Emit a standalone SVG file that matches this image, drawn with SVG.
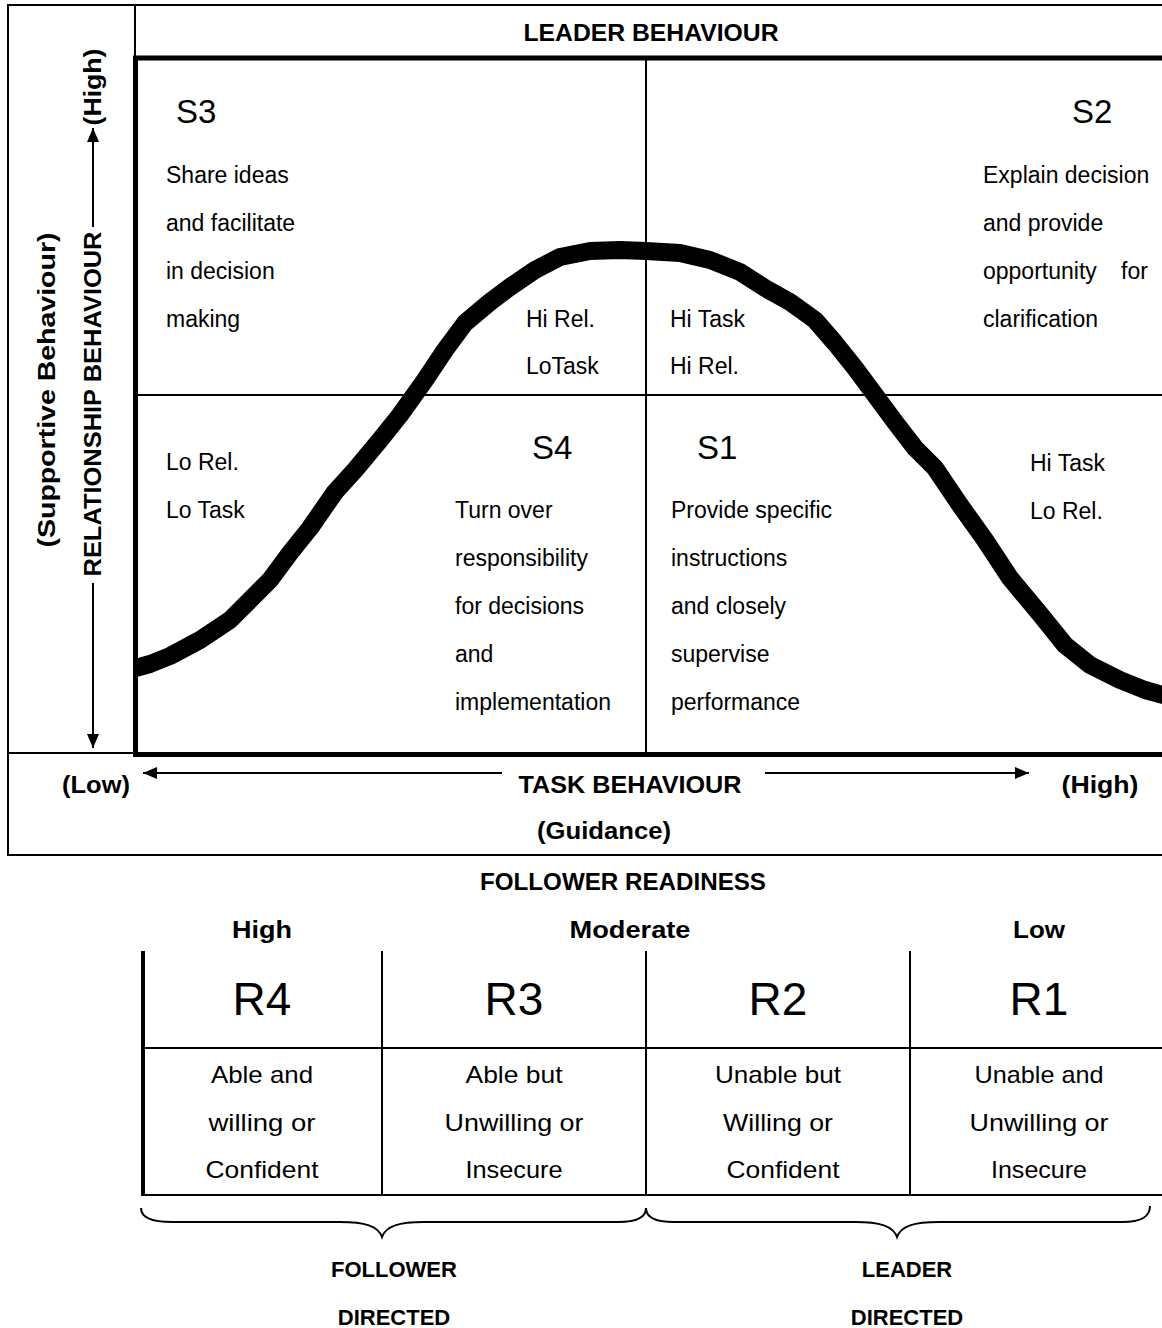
<svg xmlns="http://www.w3.org/2000/svg" width="1162" height="1328" viewBox="0 0 1162 1328">
<style>
text{font-family:"Liberation Sans",Arial,sans-serif;fill:#000}
.b{font-weight:bold;font-size:24px}
.t{font-size:23px}
.s{font-size:33px}
.r{font-size:46px;text-anchor:middle}
.c{font-size:24px;text-anchor:middle}
.m{text-anchor:middle}
.thin{stroke:#000;stroke-width:2;fill:none}
.thick{stroke:#000;stroke-width:5;fill:none}
.ax{stroke:#000;stroke-width:2;fill:none;marker-end:url(#ah)}
.br{stroke:#000;stroke-width:2;fill:none}
</style>
<defs>
<marker id="ah" viewBox="0 0 14 12" refX="14" refY="6" markerWidth="14" markerHeight="12" markerUnits="userSpaceOnUse" orient="auto"><path d="M0,0 L14,6 L0,12 z" fill="#000"/></marker>
<clipPath id="inner"><rect x="137" y="60" width="1030" height="692"/></clipPath>
</defs>
<rect width="1162" height="1328" fill="#fff"/>

<g id="frame">
<path class="thin" d="M1162,5 H8 V855 H1162"/>
<line class="thin" x1="135" y1="5" x2="135" y2="58"/>
<line class="thin" x1="8" y1="753" x2="135" y2="753"/>
<path class="thick" d="M1164,58 H135.5 V754.5 H1164"/>
<line class="thin" x1="646" y1="58" x2="646" y2="753"/>
<line class="thin" x1="135" y1="395" x2="1162" y2="395"/>
</g>

<g id="header">
<text class="b m" x="651" y="41" textLength="255" lengthAdjust="spacingAndGlyphs">LEADER BEHAVIOUR</text>
</g>

<g id="curve" clip-path="url(#inner)">
<path d="M125,671 L150,664 L170,656 L200,640 L230,620 L250,600 L270,580 L290,553 L310,528 L335,492 L355,470 L380,440 L400,415 L425,380 L445,350 L465,323 L490,302 L510,287 L535,270 L560,257 L590,251 L620,250 L646,251 L680,253 L710,260 L740,272 L765,288 L790,302 L815,320 L835,343 L855,368 L875,395 L895,422 L915,448 L935,468 L960,505 L985,540 L1010,578 L1040,614 L1065,645 L1090,665 L1120,680 L1145,690 L1170,697" fill="none" stroke="#000" stroke-width="18" stroke-linejoin="round" stroke-linecap="round"/>
</g>

<g id="s3">
<text class="s" x="176" y="123">S3</text>
<text class="t" x="166" y="183">Share ideas</text>
<text class="t" x="166" y="231">and facilitate</text>
<text class="t" x="166" y="279">in decision</text>
<text class="t" x="166" y="327">making</text>
<text class="t" x="526" y="327">Hi Rel.</text>
<text class="t" x="526" y="374">LoTask</text>
</g>

<g id="s2">
<text class="s" x="1072" y="123">S2</text>
<text class="t" x="983" y="183">Explain decision</text>
<text class="t" x="983" y="231">and provide</text>
<text class="t" x="983" y="279">opportunity</text>
<text class="t" x="1121" y="279">for</text>
<text class="t" x="983" y="327">clarification</text>
<text class="t" x="670" y="327">Hi Task</text>
<text class="t" x="670" y="374">Hi Rel.</text>
</g>

<g id="s4">
<text class="t" x="166" y="470">Lo Rel.</text>
<text class="t" x="166" y="518">Lo Task</text>
<text class="s" x="532" y="459">S4</text>
<text class="t" x="455" y="518">Turn over</text>
<text class="t" x="455" y="566">responsibility</text>
<text class="t" x="455" y="614">for decisions</text>
<text class="t" x="455" y="662">and</text>
<text class="t" x="455" y="710">implementation</text>
</g>

<g id="s1">
<text class="s" x="697" y="459">S1</text>
<text class="t" x="671" y="518">Provide specific</text>
<text class="t" x="671" y="566">instructions</text>
<text class="t" x="671" y="614">and closely</text>
<text class="t" x="671" y="662">supervise</text>
<text class="t" x="671" y="710">performance</text>
<text class="t" x="1030" y="471">Hi Task</text>
<text class="t" x="1030" y="519">Lo Rel.</text>
</g>

<g id="axis-labels">
<text class="b m" transform="translate(101,87) rotate(-90)" textLength="77" lengthAdjust="spacingAndGlyphs">(High)</text>
<text class="b m" transform="translate(101,404) rotate(-90)" textLength="345" lengthAdjust="spacingAndGlyphs">RELATIONSHIP BEHAVIOUR</text>
<text class="b m" transform="translate(55,390) rotate(-90)" textLength="315" lengthAdjust="spacingAndGlyphs">(Supportive Behaviour)</text>
<text class="b m" x="96" y="793" textLength="68" lengthAdjust="spacingAndGlyphs">(Low)</text>
<text class="b m" x="630" y="793" textLength="223" lengthAdjust="spacingAndGlyphs">TASK BEHAVIOUR</text>
<text class="b m" x="1100" y="793" textLength="77" lengthAdjust="spacingAndGlyphs">(High)</text>
<text class="b m" x="604" y="839" textLength="134" lengthAdjust="spacingAndGlyphs">(Guidance)</text>
</g>

<g id="connectors">
<line class="ax" x1="93" y1="227" x2="93" y2="128"/>
<line class="ax" x1="93" y1="583" x2="93" y2="748"/>
<line class="ax" x1="502" y1="773" x2="143" y2="773"/>
<line class="ax" x1="765" y1="773" x2="1029" y2="773"/>
</g>

<g id="readiness-header">
<text class="b m" x="623" y="890" textLength="286" lengthAdjust="spacingAndGlyphs">FOLLOWER READINESS</text>
<text class="b m" x="262" y="938" textLength="60" lengthAdjust="spacingAndGlyphs">High</text>
<text class="b m" x="630" y="938" textLength="121" lengthAdjust="spacingAndGlyphs">Moderate</text>
<text class="b m" x="1039" y="938" textLength="52" lengthAdjust="spacingAndGlyphs">Low</text>
</g>

<g id="table">
<line x1="143" y1="951" x2="143" y2="1196" stroke="#000" stroke-width="4"/>
<line class="thin" x1="382" y1="951" x2="382" y2="1195"/>
<line class="thin" x1="646" y1="951" x2="646" y2="1195"/>
<line class="thin" x1="910" y1="951" x2="910" y2="1195"/>
<line class="thin" x1="143" y1="1048" x2="1162" y2="1048"/>
<line class="thin" x1="141" y1="1195" x2="1162" y2="1195"/>
</g>

<g id="r4">
<text class="r" x="262" y="1015">R4</text>
<text class="c" x="262" y="1083" textLength="102" lengthAdjust="spacingAndGlyphs">Able and</text>
<text class="c" x="262" y="1131" textLength="107" lengthAdjust="spacingAndGlyphs">willing or</text>
<text class="c" x="262" y="1178" textLength="113" lengthAdjust="spacingAndGlyphs">Confident</text>
</g>
<g id="r3">
<text class="r" x="514" y="1015">R3</text>
<text class="c" x="514" y="1083" textLength="97" lengthAdjust="spacingAndGlyphs">Able but</text>
<text class="c" x="514" y="1131" textLength="139" lengthAdjust="spacingAndGlyphs">Unwilling or</text>
<text class="c" x="514" y="1178" textLength="97" lengthAdjust="spacingAndGlyphs">Insecure</text>
</g>
<g id="r2">
<text class="r" x="778" y="1015">R2</text>
<text class="c" x="778" y="1083" textLength="126" lengthAdjust="spacingAndGlyphs">Unable but</text>
<text class="c" x="778" y="1131" textLength="110" lengthAdjust="spacingAndGlyphs">Willing or</text>
<text class="c" x="783" y="1178" textLength="113" lengthAdjust="spacingAndGlyphs">Confident</text>
</g>
<g id="r1">
<text class="r" x="1039" y="1015">R1</text>
<text class="c" x="1039" y="1083" textLength="129" lengthAdjust="spacingAndGlyphs">Unable and</text>
<text class="c" x="1039" y="1131" textLength="139" lengthAdjust="spacingAndGlyphs">Unwilling or</text>
<text class="c" x="1039" y="1178" textLength="96" lengthAdjust="spacingAndGlyphs">Insecure</text>
</g>

<g id="braces">
<path class="br" d="M141,1208 C141,1217 150,1222 172,1222 L340,1222 C365,1222 378,1226 382,1237 C386,1226 399,1222 424,1222 L618,1222 C638,1222 646,1216 646,1208"/>
<path class="br" d="M646,1208 C646,1216 654,1222 674,1222 L855,1222 C880,1222 893,1226 897,1237 C901,1226 914,1222 939,1222 L1122,1222 C1143,1222 1150,1216 1150,1206"/>
<text class="b m" x="394" y="1277" style="font-size:22px">FOLLOWER</text>
<text class="b m" x="394" y="1325" style="font-size:22px">DIRECTED</text>
<text class="b m" x="907" y="1277" style="font-size:22px">LEADER</text>
<text class="b m" x="907" y="1325" style="font-size:22px">DIRECTED</text>
</g>
</svg>
